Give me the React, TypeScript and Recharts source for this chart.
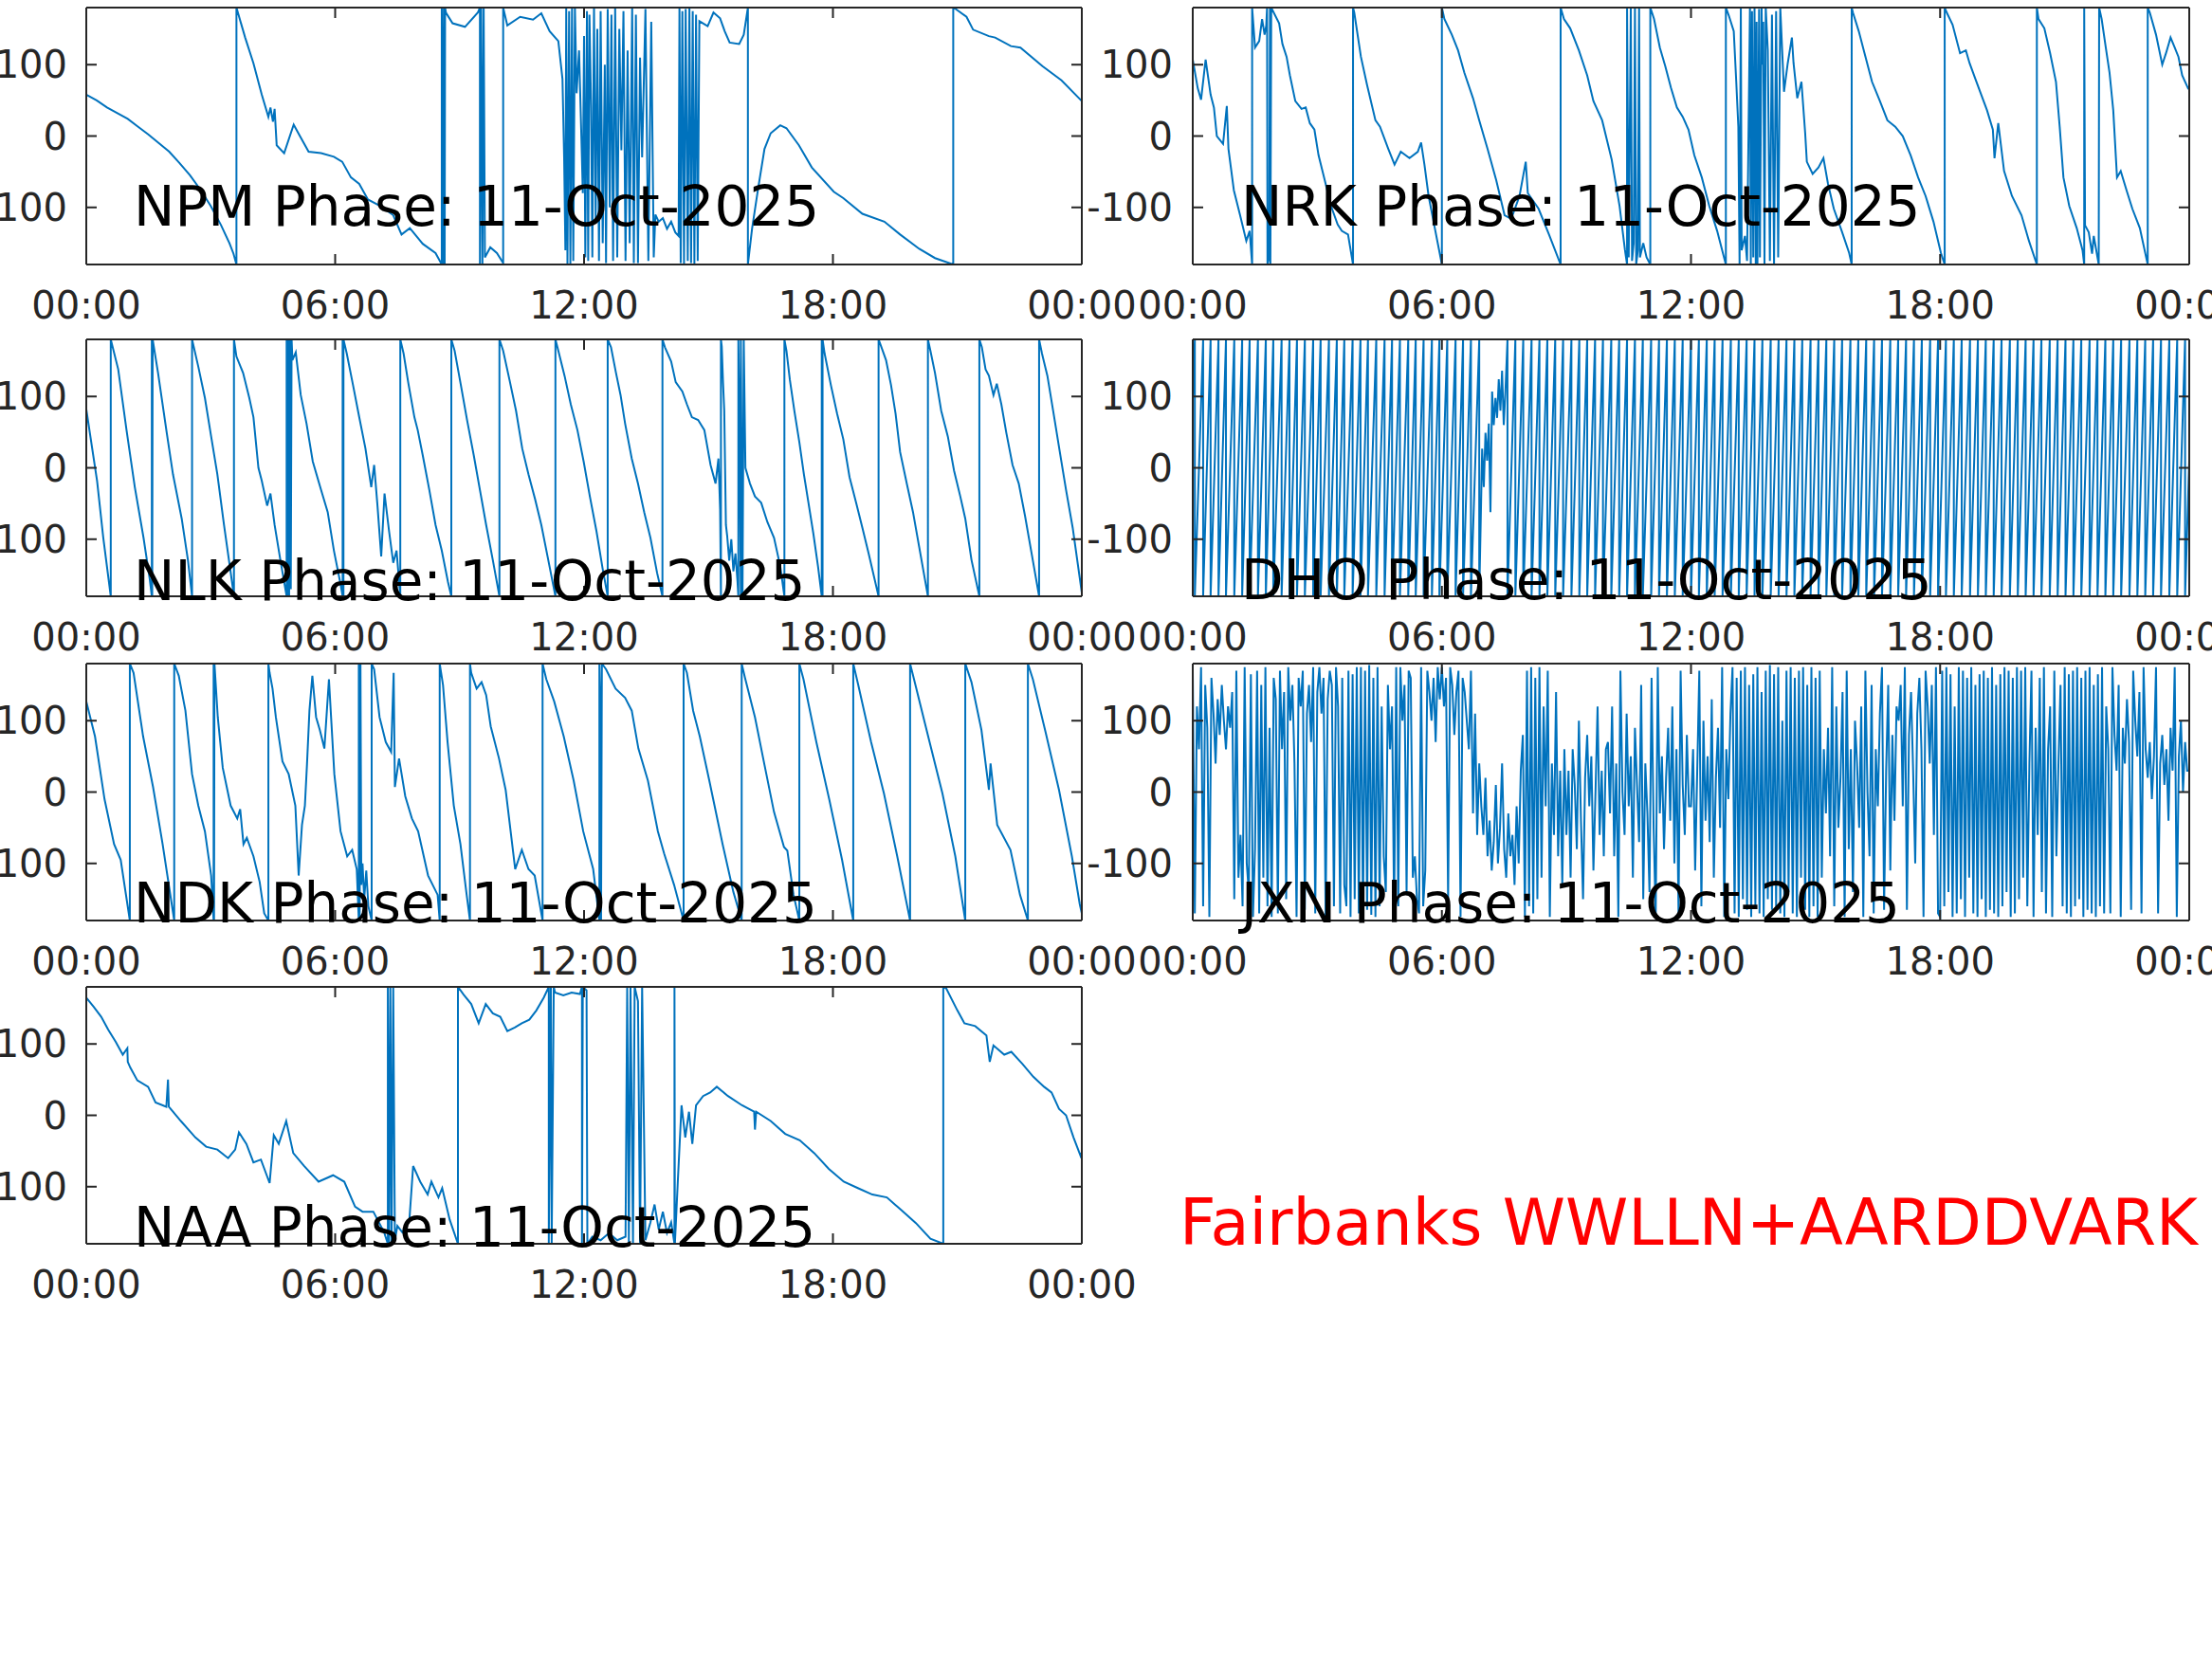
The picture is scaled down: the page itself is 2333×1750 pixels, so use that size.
import React from "react";
import { LineChart, Line, XAxis, YAxis } from "recharts";

const LINE = "#0072BD";
const AXIS = "#262626";
const FONT = "'DejaVu Sans', sans-serif";

const xTicks = [0, 6, 12, 18, 24];
const xTickLabels = ["00:00", "06:00", "12:00", "18:00", "00:00"];
const yTicks = [-100, 0, 100];
const dateLabel = "11-Oct-2025";

type Pair = [number, number];

// phase (deg) vs hour of day
const NPM: Pair[] = [
  [0, 58], [0.25, 50], [0.5, 40], [0.75, 32], [1, 24], [1.25, 13], [1.5, 2], [1.75, -10], [2, -22], [2.25, -38], [2.5, -55], [2.75, -75], [3, -98], [3.25, -125], [3.45, -150], [3.55, -165], [3.62, -180],
  [3.62, 180], [3.83, 138], [4.03, 102], [4.23, 58], [4.39, 27], [4.44, 40], [4.5, 20], [4.54, 38], [4.59, -13], [4.77, -24], [5.0, 16], [5.15, 0], [5.36, -22], [5.66, -24], [5.97, -29], [6.17, -36], [6.38, -58], [6.58, -67], [6.79, -89], [7.09, -98], [7.4, -111], [7.6, -138], [7.8, -129], [8.11, -151], [8.42, -164], [8.57, -180],
  [8.57, 180], [8.6, -180], [8.62, 180], [8.64, -180], [8.65, 180],
  [8.67, 173], [8.83, 158], [9.13, 153], [9.44, 173], [9.49, 180],
  [9.49, -180], [9.52, 180], [9.55, -180], [9.58, 180], [9.61, -170],
  [9.74, -156], [9.9, -164], [10.05, -178],
  [10.05, 180], [10.15, 155], [10.46, 167], [10.77, 163], [10.97, 172], [11.17, 147], [11.38, 133], [11.48, 80],
  [11.52, -31], [11.55, -160], [11.57, 180], [11.6, -180], [11.64, 175], [11.67, -180], [11.71, 180], [11.74, -175], [11.78, 180], [11.82, 60], [11.88, 120], [11.93, 10], [11.97, -80], [12.0, 140], [12.03, -170], [12.07, 175], [12.1, -175], [12.13, 170], [12.17, 40], [12.2, -170], [12.24, 180], [12.28, -120], [12.32, 150], [12.36, -175], [12.4, 175], [12.45, -150], [12.5, 100], [12.53, -178], [12.57, 178], [12.62, -100], [12.66, 170], [12.7, -175], [12.75, 180], [12.8, -170], [12.85, 150], [12.9, -20], [12.95, 175], [13.0, -175], [13.05, 120], [13.1, -150], [13.16, 180], [13.2, -178], [13.25, 170], [13.3, -178], [13.35, 110], [13.4, -30], [13.48, 178], [13.55, -175], [13.62, 160], [13.68, -170], [13.72, -110], [13.8, -120], [13.9, -115], [14.0, -130], [14.1, -120], [14.2, -135], [14.28, -140], [14.3, 180], [14.33, -178], [14.37, 175], [14.41, -180], [14.45, 178], [14.5, -175], [14.54, 180], [14.58, -178], [14.62, 175], [14.66, -180], [14.7, 170], [14.74, -175], [14.78, 161],
  [14.98, 154], [15.12, 173], [15.28, 165], [15.39, 147], [15.51, 131], [15.74, 129], [15.85, 142], [15.95, 180],
  [15.95, -180], [16.05, -130], [16.19, -76], [16.35, -18], [16.5, 4], [16.73, 15], [16.88, 11], [17.18, -13], [17.49, -44], [18.02, -78], [18.25, -87], [18.71, -109], [19.24, -120], [19.62, -138], [20.08, -158], [20.46, -171], [20.9, -180],
  [20.9, 180], [20.96, 178], [21.22, 167], [21.38, 149], [21.76, 140], [21.91, 138], [22.29, 126], [22.52, 124], [23.05, 98], [23.51, 78], [24, 49],
];

const NRK: Pair[] = [
  [0, 107], [0.12, 67], [0.2, 51], [0.31, 107], [0.43, 58], [0.51, 40], [0.58, 0], [0.73, -11], [0.82, 42], [0.86, -18], [0.99, -76], [1.14, -111], [1.29, -147], [1.37, -133], [1.43, -180],
  [1.43, 180], [1.5, 124], [1.6, 133], [1.67, 164], [1.73, 142], [1.77, 155], [1.79, 180], [1.8, -180], [1.84, -170], [1.86, 180], [1.87, -180], [1.89, 180],
  [2.08, 158], [2.16, 129], [2.26, 111], [2.34, 85], [2.47, 49], [2.62, 38], [2.72, 40], [2.82, 18], [2.93, 9], [3.03, -27], [3.18, -62], [3.33, -98], [3.49, -124], [3.59, -133], [3.74, -138], [3.86, -180],
  [3.86, 180], [3.89, 173], [4.05, 111], [4.2, 71], [4.4, 22], [4.51, 13], [4.71, -18], [4.86, -40], [5.01, -22], [5.22, -31], [5.42, -22], [5.5, -9], [5.58, -40], [5.68, -84], [5.83, -129], [6.0, -180],
  [6.0, 180], [6.06, 164], [6.24, 142], [6.39, 120], [6.54, 89], [6.75, 53], [6.9, 22], [7.1, -18], [7.31, -62], [7.51, -111], [7.67, -116], [7.87, -84], [8.02, -36], [8.07, -80], [8.33, -102], [8.58, -138], [8.86, -180],
  [8.86, 180], [8.94, 164], [9.09, 151], [9.3, 120], [9.5, 85], [9.65, 49], [9.86, 22], [10.09, -33], [10.28, -98], [10.41, -160], [10.46, -180],
  [10.46, 180], [10.5, -170], [10.55, 180], [10.58, -175], [10.62, -150], [10.65, 180], [10.68, -180], [10.72, -160], [10.75, 180], [10.77, -170], [10.85, -150], [10.93, -170], [11.02, -180],
  [11.02, 180], [11.11, 164], [11.25, 124], [11.38, 98], [11.52, 67], [11.66, 40], [11.8, 27], [11.94, 9], [12.08, -27], [12.26, -58], [12.44, -98], [12.63, -133], [12.84, -180],
  [12.84, 180], [12.91, 169], [13.03, 147], [13.09, 76], [13.14, 13], [13.17, -180], [13.2, 180], [13.22, -160], [13.3, -140], [13.35, -175], [13.42, 180], [13.44, -180], [13.47, 175], [13.5, -170], [13.53, 180], [13.56, -180], [13.58, 160], [13.6, -180], [13.64, 178], [13.66, -170], [13.7, 180], [13.72, 100], [13.74, 160], [13.77, -180], [13.8, 180], [13.85, 120], [13.9, -175], [13.95, 170], [14.0, -180], [14.05, 175], [14.1, -170], [14.15, 180],
  [14.24, 62], [14.33, 102], [14.43, 138], [14.47, 102], [14.56, 53], [14.66, 76], [14.75, 4], [14.79, -36], [14.93, -53], [15.07, -44], [15.19, -31], [15.3, -67], [15.44, -102], [15.63, -133], [15.81, -164], [15.87, -180],
  [15.87, 180], [15.9, 173], [16.04, 147], [16.18, 116], [16.36, 76], [16.55, 49], [16.73, 22], [16.92, 13], [17.1, 0], [17.29, -27], [17.47, -58], [17.65, -84], [17.84, -120], [18.02, -164], [18.11, -180],
  [18.11, 180], [18.16, 173], [18.3, 156], [18.48, 116], [18.62, 120], [18.71, 102], [18.85, 80], [18.99, 58], [19.13, 36], [19.27, 9], [19.31, -31], [19.4, 18], [19.54, -49], [19.73, -84], [19.96, -111], [20.14, -147], [20.33, -180],
  [20.33, 180], [20.37, 164], [20.51, 151], [20.65, 116], [20.79, 76], [20.88, 13], [20.97, -58], [21.11, -98], [21.29, -129], [21.43, -160], [21.47, -180], [21.47, 180], [21.49, -125], [21.58, -135], [21.66, -165], [21.7, -140], [21.82, -180],
  [21.83, 180], [21.89, 164], [21.99, 124], [22.08, 89], [22.17, 36], [22.26, -58], [22.35, -49], [22.49, -76], [22.63, -102], [22.81, -129], [23.0, -180],
  [23.0, 180], [23.05, 173], [23.2, 142], [23.35, 100], [23.44, 116], [23.55, 138], [23.65, 124], [23.74, 111], [23.83, 85], [23.97, 67], [24, 65],
];

const NLK: Pair[] = [
  [0, 82], [0.26, -18], [0.41, -98], [0.59, -180],
  [0.59, 180], [0.77, 138], [0.97, 53], [1.17, -27], [1.38, -98], [1.53, -156], [1.58, -180], [1.58, 180], [1.59, -180], [1.6, 180],
  [1.73, 133], [1.94, 49], [2.09, -9], [2.3, -71], [2.45, -129], [2.55, -180],
  [2.55, 180], [2.7, 142], [2.86, 98], [3.01, 44], [3.16, -9], [3.32, -80], [3.47, -142], [3.56, -180],
  [3.56, 180], [3.62, 156], [3.78, 133], [3.93, 98], [4.03, 71], [4.15, 0], [4.23, -18], [4.36, -53], [4.44, -36], [4.54, -80], [4.69, -133], [4.83, -180],
  [4.83, 180], [4.85, -180], [4.87, 180], [4.89, -180], [4.91, 180], [4.93, -170], [4.95, 180],
  [4.97, 151], [5.05, 162], [5.17, 102], [5.31, 62], [5.46, 9], [5.66, -31], [5.82, -62], [5.97, -116], [6.12, -160], [6.18, -180], [6.18, 180], [6.2, -180], [6.2, 180],
  [6.28, 160], [6.43, 116], [6.58, 71], [6.73, 27], [6.87, -27], [6.94, 4], [7.02, -53], [7.11, -124], [7.19, -36], [7.3, -89], [7.4, -133], [7.48, -116], [7.57, -180],
  [7.57, 180], [7.65, 160], [7.76, 120], [7.91, 71], [7.99, 53], [8.11, 18], [8.27, -31], [8.42, -80], [8.57, -116], [8.72, -160], [8.8, -180],
  [8.8, 180], [8.88, 164], [9.03, 116], [9.18, 67], [9.34, 18], [9.49, -31], [9.64, -80], [9.8, -129], [9.96, -180],
  [9.96, 180], [10.05, 164], [10.2, 124], [10.36, 80], [10.51, 27], [10.66, -9], [10.82, -44], [10.97, -80], [11.12, -124], [11.31, -180],
  [11.31, 180], [11.38, 164], [11.53, 129], [11.68, 89], [11.84, 53], [11.99, 9], [12.14, -40], [12.3, -89], [12.45, -142], [12.57, -180],
  [12.57, 180], [12.65, 169], [12.77, 133], [12.88, 102], [12.99, 62], [13.15, 13], [13.3, -22], [13.45, -62], [13.6, -98], [13.76, -147], [13.89, -180],
  [13.89, 180], [13.95, 169], [14.1, 149], [14.21, 120], [14.37, 107], [14.48, 89], [14.6, 71], [14.75, 67], [14.9, 53], [15.05, 4], [15.17, -22], [15.24, 13], [15.28, -58], [15.3, -180],
  [15.3, 180], [15.32, 170], [15.35, 120], [15.38, 80], [15.42, -80], [15.45, -95], [15.5, -130], [15.55, -100], [15.6, -145], [15.65, -120], [15.7, -160], [15.72, -180], [15.72, 180], [15.75, 60], [15.78, -180], [15.78, 180], [15.82, -180], [15.85, 180],
  [15.89, 0], [16.0, -22], [16.12, -40], [16.27, -49], [16.42, -76], [16.58, -98], [16.73, -138], [16.83, -180],
  [16.83, 180], [16.88, 164], [16.96, 124], [17.07, 80], [17.19, 36], [17.3, -9], [17.41, -49], [17.53, -93], [17.64, -138], [17.73, -180], [17.73, 180], [17.75, -180], [17.75, 180],
  [17.8, 160], [17.95, 116], [18.1, 76], [18.25, 40], [18.4, -13], [18.56, -49], [18.71, -84], [18.86, -120], [19.1, -180],
  [19.1, 180], [19.17, 169], [19.28, 151], [19.4, 116], [19.51, 76], [19.62, 22], [19.78, -22], [19.93, -62], [20.08, -111], [20.29, -180],
  [20.29, 180], [20.35, 164], [20.46, 133], [20.61, 80], [20.77, 44], [20.92, -4], [21.07, -40], [21.19, -71], [21.34, -129], [21.53, -180],
  [21.53, 180], [21.59, 169], [21.68, 138], [21.76, 129], [21.87, 102], [21.95, 118], [22.06, 89], [22.18, 49], [22.33, 4], [22.48, -22], [22.63, -67], [22.79, -120], [22.97, -180],
  [22.97, 180], [23.04, 160], [23.17, 129], [23.32, 76], [23.47, 22], [23.62, -31], [23.78, -84], [24, -175],
];

const NDK: Pair[] = [
  [0, 127], [0.21, 78], [0.44, -10], [0.67, -73], [0.83, -95], [1.05, -180],
  [1.05, 180], [1.14, 167], [1.37, 78], [1.61, 7], [1.84, -73], [2.12, -180],
  [2.12, 180], [2.23, 163], [2.39, 114], [2.55, 25], [2.7, -19], [2.86, -55], [3.01, -117], [3.07, -180], [3.07, 180], [3.08, -180], [3.09, 180],
  [3.17, 105], [3.29, 34], [3.48, -19], [3.64, -37], [3.71, -24], [3.79, -73], [3.87, -64], [4.03, -90], [4.18, -126], [4.29, -170], [4.39, -180],
  [4.39, 180], [4.42, 167], [4.49, 145], [4.57, 105], [4.73, 43], [4.88, 25], [5.04, -19], [5.12, -117], [5.2, -46], [5.27, -19], [5.32, 38], [5.38, 114], [5.45, 163], [5.54, 105], [5.63, 87], [5.74, 61], [5.85, 158], [5.98, 25], [6.13, -55], [6.29, -90], [6.41, -81], [6.52, -108], [6.57, -180],
  [6.57, 180], [6.59, -180], [6.61, 180], [6.63, -130], [6.66, -100], [6.7, -150], [6.75, -110], [6.8, -160], [6.88, -180],
  [6.88, 180], [6.94, 172], [7.07, 105], [7.22, 70], [7.35, 56], [7.41, 167], [7.44, 7], [7.54, 47], [7.69, -6], [7.85, -37], [8.0, -55], [8.24, -117], [8.47, -144], [8.52, -180],
  [8.52, 180], [8.6, 150], [8.71, 70], [8.86, -19], [9.02, -73], [9.17, -144], [9.25, -180],
  [9.25, 180], [9.28, 167], [9.41, 145], [9.53, 154], [9.64, 136], [9.75, 92], [9.95, 47], [10.11, 3], [10.34, -108], [10.5, -81], [10.66, -108], [10.81, -117], [11.0, -180],
  [11.0, 180], [11.09, 158], [11.28, 127], [11.51, 78], [11.75, 16], [11.98, -55], [12.22, -108], [12.37, -180], [12.37, 180], [12.4, 100], [12.41, -180], [12.43, 180],
  [12.53, 172], [12.76, 145], [12.99, 132], [13.15, 114], [13.31, 61], [13.54, 16], [13.78, -55], [13.93, -86], [14.17, -130], [14.4, -180],
  [14.4, 180], [14.48, 167], [14.63, 114], [14.79, 78], [15.02, 16], [15.34, -73], [15.6, -140], [15.8, -180],
  [15.8, 180], [15.88, 160], [16.12, 105], [16.35, 38], [16.58, -28], [16.82, -77], [16.9, -82], [17.05, -144], [17.19, -180],
  [17.19, 180], [17.29, 158], [17.6, 70], [17.91, -10], [18.22, -95], [18.49, -180],
  [18.49, 180], [18.61, 150], [18.92, 70], [19.23, -2], [19.55, -90], [19.86, -180],
  [19.86, 180], [20.01, 145], [20.33, 70], [20.64, -2], [20.95, -90], [21.19, -180],
  [21.19, 180], [21.34, 154], [21.58, 87], [21.76, 3], [21.8, 40], [21.96, -46], [22.28, -81], [22.51, -144], [22.7, -180],
  [22.7, 180], [22.82, 158], [23.13, 83], [23.45, 3], [23.76, -90], [23.95, -157], [24, -170],
];

const NAA: Pair[] = [
  [0, 165], [0.18, 152], [0.36, 138], [0.53, 120], [0.71, 103], [0.88, 85], [0.99, 94], [1.0, 75], [1.06, 67], [1.23, 49], [1.49, 40], [1.67, 18], [1.93, 12], [1.97, 50], [1.99, 12], [2.28, -8], [2.63, -31], [2.89, -44], [3.16, -48], [3.42, -60], [3.59, -48], [3.68, -24], [3.86, -40], [4.03, -66], [4.21, -62], [4.42, -95], [4.52, -28], [4.64, -40], [4.82, -8], [4.99, -53], [5.25, -71], [5.6, -93], [5.95, -84], [6.22, -93], [6.48, -128], [6.66, -135], [6.92, -135], [7.18, -164], [7.27, -180],
  [7.27, 180], [7.3, -180], [7.33, 180], [7.36, -180], [7.4, 180], [7.44, -175],
  [7.5, -155], [7.62, -164], [7.79, -146], [7.88, -71], [8.05, -93], [8.23, -111], [8.32, -93], [8.49, -115], [8.58, -102], [8.76, -146], [8.96, -180],
  [8.96, 180], [9.1, 169], [9.28, 156], [9.46, 129], [9.63, 156], [9.8, 143], [9.98, 138], [10.15, 118], [10.33, 123], [10.5, 129], [10.68, 134], [10.85, 147], [11.03, 165], [11.15, 180],
  [11.15, -180], [11.2, 180], [11.22, -180], [11.27, 180],
  [11.3, 172], [11.5, 168], [11.7, 172], [11.9, 170], [11.95, 180], [11.95, -180], [11.97, 180], [12.06, 175], [12.08, -180],
  [12.2, -170], [12.4, -175], [12.6, -165], [12.8, -175], [13.0, -170], [13.04, 180], [13.08, -180], [13.12, 180], [13.18, -180], [13.22, 180], [13.3, 160], [13.35, -180], [13.4, 180], [13.48, -175],
  [13.6, -150], [13.7, -125], [13.8, -160], [13.9, -135], [14.0, -165], [14.1, -150], [14.18, -180], [14.18, 180], [14.19, -180],
  [14.26, -93], [14.35, 14], [14.44, -31], [14.53, 5], [14.61, -40], [14.7, 14], [14.87, 27], [15.04, 32], [15.2, 40], [15.47, 27], [15.81, 14], [16.1, 5], [16.12, -20], [16.15, 5], [16.5, -8], [16.85, -26], [17.2, -35], [17.55, -53], [17.9, -75], [18.26, -93], [18.6, -102], [18.95, -111], [19.3, -115], [19.65, -133], [20.0, -151], [20.35, -173], [20.66, -180],
  [20.66, 180], [20.73, 178], [21.0, 147], [21.17, 129], [21.43, 125], [21.7, 112], [21.78, 75], [21.87, 98], [22.13, 85], [22.3, 89], [22.57, 72], [22.83, 54], [23.09, 40], [23.27, 32], [23.45, 9], [23.62, 0], [23.8, -31], [23.97, -57], [24, -52],
];

// DHO: fast rising sawtooth, hours where the phase wraps from +180 to -180
const dhoStart = 98;
const dhoWrapsEarly = [
  0.05, 0.25, 0.43, 0.62, 0.8, 1.0, 1.19, 1.37, 1.57, 1.76, 1.94, 2.14, 2.33, 2.51, 2.7, 2.9, 3.08, 3.28, 3.47,
  3.65, 3.85, 4.04, 4.22, 4.42, 4.62, 4.8, 4.99, 5.19, 5.37, 5.56, 5.76, 5.94, 6.13, 6.33, 6.51, 6.7, 6.9,
];
const dhoGapT = [6.97, 7.01, 7.05, 7.09, 7.13, 7.17, 7.21, 7.25, 7.29, 7.33, 7.37, 7.41, 7.45, 7.49, 7.53, 7.56];
const dhoGapV = [27, -27, 49, 10, 62, -62, 107, 60, 98, 70, 124, 80, 136, 60, 107, 150];
const dhoWrapsLate = [
  7.58, 7.77, 7.96, 8.16, 8.35, 8.54, 8.73, 8.92, 9.12, 9.31, 9.5, 9.69, 9.88, 10.08, 10.27, 10.46, 10.65, 10.84,
  11.04, 11.23, 11.42, 11.61, 11.8, 12.0, 12.19, 12.38, 12.57, 12.76, 12.96, 13.15, 13.34, 13.53, 13.72, 13.92,
  14.11, 14.3, 14.49, 14.68, 14.88, 15.07, 15.26, 15.45, 15.64, 15.84, 16.03, 16.22, 16.41, 16.6, 16.8, 16.99,
  17.18, 17.37, 17.56, 17.76, 17.95, 18.14, 18.33, 18.52, 18.72, 18.91, 19.1, 19.29, 19.48, 19.68, 19.87, 20.06,
  20.25, 20.44, 20.64, 20.83, 21.02, 21.21, 21.4, 21.6, 21.79, 21.98, 22.17, 22.36, 22.56, 22.75, 22.94, 23.13,
  23.32, 23.52, 23.71, 23.9,
];
const dhoEnd = 10;

// JXN: noisy phase, one reading every 3 minutes (20 per hour)
const jxnValues = [
  170, -170, 120, 60, 175, -160, 150, 90, -175, 160, 110, 40, 130, 80, 150, 100, 60, 120, 90, 140,
  -150, 170, -120, -60, -160, 175, -100, -140, 165, -175, -80, 170, -170, 150, -120, 175, -160, 90, -175, 160,
  130, -170, 170, 60, 140, -150, 175, 100, 150, 40, -175, 160, 120, 170, -165, 110, 150, 70, 175, -170,
  140, 175, 110, 160, -175, 130, 170, 150, -160, 175, 120, -170, 160, -130, -160, 170, -175, 165, -150, 175,
  -170, 175, -175, 170, -165, 178, -172, 160, -175, 175, -160, 120, -90, -140, 150, 60, 120, -170, 175, -160,
  175, 100, 150, -140, 170, 160, -120, -90, -150, -170, 175, -160, -110, 170, 140, 100, 160, 70, 175, 130,
  175, 120, 160, -150, 175, 150, 80, 140, 170, -175, 160, 140, 100, 60, 170, -30, 110, -60, 40, -20,
  -60, 20, -90, -40, -110, -70, 10, -100, -50, 40, -80, -120, -30, -90, -60, -130, -20, -100, 30, 80,
  -175, 170, -160, 175, -170, 160, -150, 175, -120, 120, -20, 170, -175, 40, -60, 140, -90, 30, -130, 60,
  -60, 30, -120, 60, 10, -80, 100, -40, -150, 20, 80, -20, 50, -110, 0, 120, -60, 30, -90, 60,
  70, -30, 120, -90, 40, -175, 170, 0, -60, 110, -20, 50, -120, 90, 10, -70, 150, -150, 40, -30,
  -140, 160, -50, -175, 175, -30, 50, -80, 20, 90, -40, 120, -100, 60, -170, 170, 10, -60, 80, -20,
  -20, 60, -110, 30, 170, -160, 100, -40, 50, -70, 130, -120, 20, 90, -50, 175, -175, 60, -10, 110,
  175, -170, 160, -175, 170, -150, 175, -165, 150, -175, 165, -160, 175, -170, 140, -175, 170, -150, 178, -165,
  165, -160, 175, -170, 100, -175, 170, -140, 175, -170, 160, -175, 170, -120, 175, -165, 150, -175, 175, -160,
  160, -175, 170, -120, 60, -30, 90, -90, 175, -160, 120, -50, 20, 140, -175, 170, -80, 60, -140, 100,
  40, -50, 120, -175, 170, 0, -90, 150, -170, 60, -20, 110, 175, -165, 30, 150, -110, 80, -40, 120,
  100, 150, -20, 175, -165, 80, 140, 30, -100, 110, 160, 60, -175, 170, 120, 40, 150, -60, 175, -170,
  -175, 170, -160, 175, -140, 165, -175, 120, -170, 175, -150, 170, -175, 160, -120, 175, -170, 150, -175, 165,
  -150, 170, -175, 160, -165, 175, -170, 150, -175, 165, -160, 175, -140, 170, -175, 160, -170, 175, -150, 170,
  -120, 175, -160, 40, 170, -175, 90, -60, 160, -140, 175, -170, 60, 120, -175, 170, -90, 40, 150, -160,
  175, -170, 165, -175, 170, -160, 175, -150, 160, -175, 170, -165, 175, -170, 150, -175, 165, -160, 175, -170,
  120, 60, -170, 175, 80, 30, 150, -175, 90, 40, 130, 70, -165, 170, 100, 50, 140, -170, 175, 60,
  20, 70, -10, 50, 175, -170, 40, 80, 10, 60, -40, 90, 30, 175, -175, 50, 100, 0, 70, 30,
  30,
];
const jxnStep = 0.05;

type Row = { t: number; v: number };
const toRows = (pairs: Pair[]): Row[] => pairs.map(([t, v]) => ({ t, v }));

function buildDho(): Row[] {
  const rows: Row[] = [{ t: 0, v: dhoStart }];
  dhoWrapsEarly.forEach((w) => {
    rows.push({ t: w, v: 180 }, { t: w, v: -180 });
  });
  dhoGapT.forEach((t, i) => rows.push({ t, v: dhoGapV[i] }));
  dhoWrapsLate.forEach((w) => {
    rows.push({ t: w, v: 180 }, { t: w, v: -180 });
  });
  rows.push({ t: 24, v: dhoEnd });
  return rows;
}

const jxnRows: Row[] = jxnValues.map((v, i) => ({ t: +(i * jxnStep).toFixed(2), v }));

const panels = [
  { name: "NPM", data: toRows(NPM), col: 0, top: 8, textY: 238 },
  { name: "NRK", data: toRows(NRK), col: 1, top: 8, textY: 238 },
  { name: "NLK", data: toRows(NLK), col: 0, top: 358, textY: 633 },
  { name: "DHO", data: buildDho(), col: 1, top: 358, textY: 632 },
  { name: "NDK", data: toRows(NDK), col: 0, top: 700, textY: 973 },
  { name: "JXN", data: jxnRows, col: 1, top: 700, textY: 973 },
  { name: "NAA", data: toRows(NAA), col: 0, top: 1041, textY: 1315 },
];

const PLOT_H = 271;
const X_AXIS_H = 80;
const cols = [
  { plotX: 91, plotW: 1050, axisW: 91, extra: 65, labelGap: 31, textX: 141 },
  { plotX: 1258, plotW: 1051, axisW: 120, extra: 24, labelGap: 32, textX: 1309 },
];

const tickStyle = { fontSize: 40, fill: AXIS, fontFamily: FONT };
const lineStyle = { stroke: AXIS, strokeWidth: 2 };

function Panel({ data, col, top }: { data: Row[]; col: number; top: number }) {
  const c = cols[col];
  const w = c.axisW + c.plotW + c.extra;
  const h = 8 + PLOT_H + X_AXIS_H;
  return (
    <div style={{ position: "absolute", left: c.plotX - c.axisW, top: top - 8 }}>
      <LineChart width={w} height={h} data={data} margin={{ top: 7, right: c.extra - 1, bottom: 0, left: 0 }}>
        <XAxis
          xAxisId="b"
          dataKey="t"
          type="number"
          domain={[0, 24]}
          ticks={xTicks}
          interval={0}
          allowDataOverflow
          height={X_AXIS_H}
          tickSize={-11}
          tickMargin={40}
          tickFormatter={(v: number) => xTickLabels[xTicks.indexOf(v)]}
          tick={tickStyle}
          axisLine={lineStyle}
          tickLine={lineStyle}
        />
        <XAxis
          xAxisId="t"
          orientation="top"
          dataKey="t"
          type="number"
          domain={[0, 24]}
          ticks={xTicks}
          interval={0}
          allowDataOverflow
          height={1}
          tickSize={-11}
          tickFormatter={() => ""}
          tick={tickStyle}
          axisLine={lineStyle}
          tickLine={lineStyle}
        />
        <YAxis
          yAxisId="l"
          type="number"
          domain={[-180, 180]}
          ticks={yTicks}
          interval={0}
          allowDataOverflow
          width={c.axisW}
          tickSize={-11}
          tickMargin={c.labelGap}
          tick={tickStyle}
          axisLine={lineStyle}
          tickLine={lineStyle}
        />
        <YAxis
          yAxisId="r"
          orientation="right"
          type="number"
          domain={[-180, 180]}
          ticks={yTicks}
          interval={0}
          allowDataOverflow
          width={1}
          tickSize={-11}
          tickFormatter={() => ""}
          tick={tickStyle}
          axisLine={lineStyle}
          tickLine={lineStyle}
        />
        <Line
          xAxisId="b"
          yAxisId="l"
          dataKey="v"
          type="linear"
          stroke={LINE}
          strokeWidth={2}
          dot={false}
          activeDot={false}
          isAnimationActive={false}
        />
      </LineChart>
    </div>
  );
}

export default function App() {
  return (
    <div style={{ position: "absolute", left: 0, top: 0, width: 2333, height: 1750, background: "#fff", overflow: "hidden" }}>
      {panels.map((p) => (
        <Panel key={p.name} data={p.data} col={p.col} top={p.top} />
      ))}
      <svg width={2333} height={1750} style={{ position: "absolute", left: 0, top: 0, pointerEvents: "none" }}>
        {panels.map((p) => (
          <text key={p.name} x={cols[p.col].textX} y={p.textY} fontSize={58} fontFamily={FONT} fill="#000">
            {`${p.name} Phase: ${dateLabel}`}
          </text>
        ))}
        <text x={1244} y={1313} fontSize={67} fontFamily={FONT} fill="#FF0000">
          Fairbanks WWLLN+AARDDVARK
        </text>
      </svg>
    </div>
  );
}
